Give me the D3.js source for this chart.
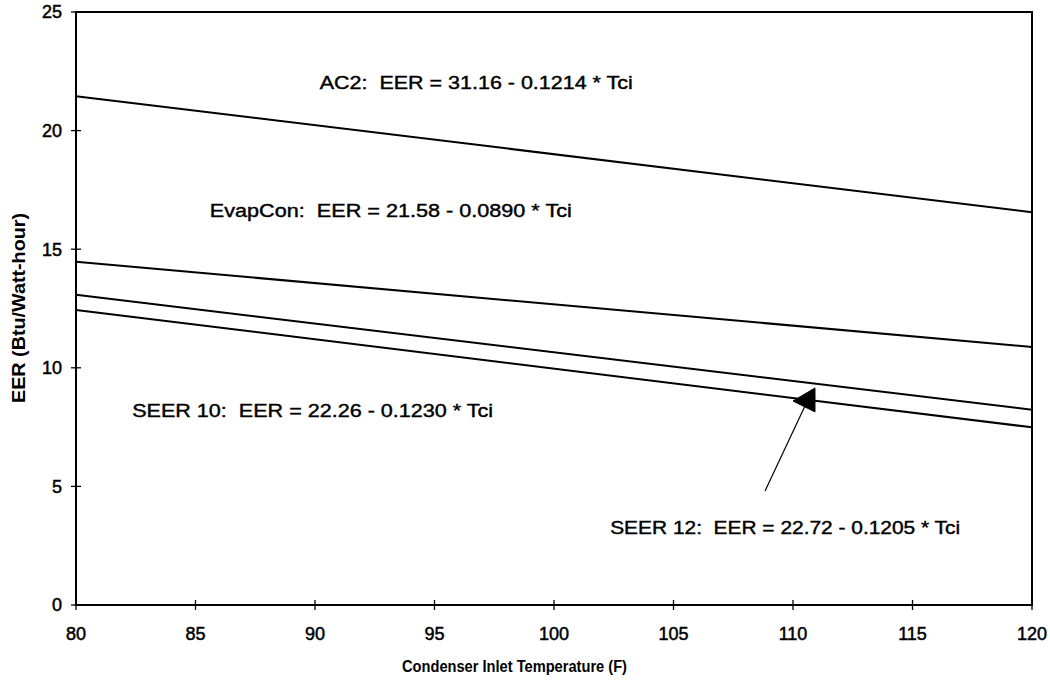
<!DOCTYPE html>
<html>
<head>
<meta charset="utf-8">
<script src="https://cdn.jsdelivr.net/npm/d3@7"></script>
<style>
  body{margin:0;background:#fff;}
  svg{display:block;}
  text{font-family:"Liberation Sans",Arial,sans-serif;fill:#000;white-space:pre;}
</style>
</head>
<body>
<svg id="chart" width="1050" height="683"></svg>
<script>
//data------------------------------------------------
var temps=[80,120];
var ac2=[21.45,16.56];
var evapcon=[14.47,10.88];
var seer12=[13.08,8.23];
var seer10=[12.44,7.49];
var xTicks=[80,85,90,95,100,105,110,115,120];
var yTicks=[0,5,10,15,20,25];

//equation labels: text, x value, y value (baseline), width px
var labelText=['AC2:  EER = 31.16 - 0.1214 * Tci','EvapCon:  EER = 21.58 - 0.0890 * Tci','SEER 10:  EER = 22.26 - 0.1230 * Tci','SEER 12:  EER = 22.72 - 0.1205 * Tci'];
var labelX=[90.2,85.6,82.35,102.35];
var labelY=[21.75,16.36,7.93,2.99];
var labelW=[313,362,361,350];

//arrow pointing at SEER 12 line
var arrowLine=[[108.83,4.81],[110.54,8.47]];
var arrowHead=[[110.0,8.6],[110.92,9.15],[110.92,8.14]];

//layout
var pLeft=76,pRight=1032,pTop=12,pBottom=605;
var svg=d3.select('#chart');

var x=d3.scaleLinear().domain([80,120]).range([pLeft,pRight]);
var y=d3.scaleLinear().domain([0,25]).range([pBottom,pTop]);

//frame
svg.append('rect')
  .attr('x',pLeft).attr('y',pTop)
  .attr('width',pRight-pLeft).attr('height',pBottom-pTop)
  .attr('fill','none').attr('stroke','#000').attr('stroke-width',2);

//x axis ticks (cross the axis line)
var xg=svg.append('g');
xTicks.forEach((t,i)=>{
  xg.append('line')
    .attr('x1',x(t)).attr('x2',x(t))
    .attr('y1',pBottom-5).attr('y2',pBottom+5)
    .attr('stroke','#000').attr('stroke-width',1.3);
  xg.append('text')
    .attr('x',x(t)).attr('y',pBottom+35)
    .attr('text-anchor','middle')
    .attr('stroke','#000').attr('stroke-width',0.5)
    .style('font-size','18px')
    .text(t);
});

//y axis ticks
var yg=svg.append('g');
yTicks.forEach((t,i)=>{
  yg.append('line')
    .attr('x1',pLeft-5).attr('x2',pLeft+5)
    .attr('y1',y(t)).attr('y2',y(t))
    .attr('stroke','#000').attr('stroke-width',1.3);
  yg.append('text')
    .attr('x',pLeft-14).attr('y',y(t))
    .attr('dy','0.35em')
    .attr('text-anchor','end')
    .attr('stroke','#000').attr('stroke-width',0.5)
    .style('font-size','18px')
    .text(t);
});

//axis titles
svg.append('text')
  .attr('x',(402+627)/2).attr('y',672)
  .attr('text-anchor','middle')
  .attr('textLength',225).attr('lengthAdjust','spacingAndGlyphs')
  .style('font-size','16px').style('font-weight','bold')
  .text('Condenser Inlet Temperature (F)');

svg.append('text')
  .attr('transform','translate(25,308) rotate(-90)')
  .attr('text-anchor','middle')
  .attr('textLength',190).attr('lengthAdjust','spacingAndGlyphs')
  .style('font-size','18px').style('font-weight','bold')
  .text('EER (Btu/Watt-hour)');

//lines
var line=d3.line()
  .x(d=>x(d[0]))
  .y(d=>y(d[1]));

[ac2,evapcon,seer12,seer10].forEach((series,i)=>{
  svg.append('path')
    .datum(temps.map((t,j)=>[t,series[j]]))
    .attr('d',line)
    .attr('fill','none')
    .attr('stroke','#000')
    .attr('stroke-width',2);
});

//equation labels
labelText.forEach((item,i)=>{
  svg.append('text')
    .attr('x',x(labelX[i])).attr('y',y(labelY[i]))
    .attr('textLength',labelW[i]).attr('lengthAdjust','spacingAndGlyphs')
    .attr('stroke','#000').attr('stroke-width',0.4)
    .style('font-size','18px')
    .text(item);
});

//arrow
svg.append('path')
  .datum(arrowLine)
  .attr('d',line)
  .attr('fill','none')
  .attr('stroke','#000')
  .attr('stroke-width',1.2);
var headLine=d3.line().x(d=>x(d[0])).y(d=>y(d[1])).curve(d3.curveLinearClosed);
svg.append('path')
  .datum(arrowHead)
  .attr('d',headLine)
  .attr('fill','#000')
  .attr('stroke','#000')
  .attr('stroke-width',1);
</script>
</body>
</html>
